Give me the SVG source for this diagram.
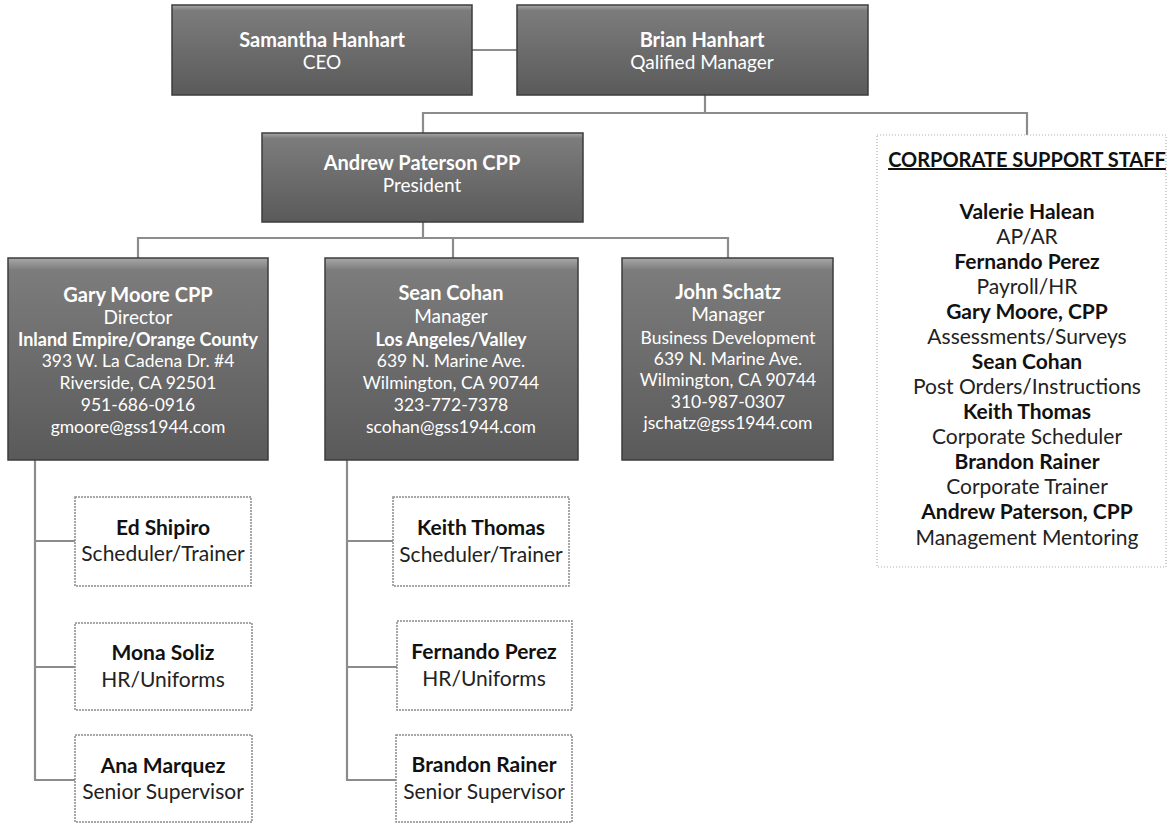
<svg xmlns="http://www.w3.org/2000/svg" width="1167" height="823" viewBox="0 0 1167 823">
  <defs>
    <linearGradient id="dg" x1="0" y1="0" x2="0" y2="1">
      <stop offset="0" stop-color="#a8a8a8"/>
      <stop offset="0.06" stop-color="#7c7c7c"/>
      <stop offset="0.5" stop-color="#6c6c6c"/>
      <stop offset="1" stop-color="#5a5a5a"/>
    </linearGradient>
  </defs>
  <style>
    .dark { fill: url(#dg); stroke: #3c3c3c; stroke-width: 1.5; }
    .sub { fill: #ffffff; stroke: #8a8a8a; stroke-width: 1.5; stroke-dasharray: 2 1; }
    .corp { fill: #ffffff; stroke: #b0b0b0; stroke-width: 1.2; stroke-dasharray: 1 2; }
    .conn { fill: none; stroke: #8c8c8c; stroke-width: 2.2; }
    text { font-family: Lato, "Liberation Sans", sans-serif; text-anchor: middle; }
    .wn { fill: #ffffff; font-size: 20px; font-weight: bold; }
    .wt { fill: #ffffff; font-size: 19px; }
    .wb { fill: #ffffff; font-size: 18px; font-weight: bold; }
    .ws { fill: #ffffff; font-size: 17.5px; }
    .bn { fill: #111111; font-size: 21px; font-weight: bold; }
    .bt { fill: #222222; font-size: 21px; }
    .cn { fill: #111111; font-size: 21px; font-weight: bold; }
    .ct { fill: #222222; font-size: 21px; }
    .hd { fill: #111111; font-size: 20px; font-weight: bold; text-decoration: underline; }
  </style>

  <g id="connectors">
    <line class="conn" x1="472" y1="50" x2="517" y2="50"/>
    <polyline class="conn" points="705,95 705,113"/>
    <polyline class="conn" points="423,133 423,113 1027,113 1027,135"/>
    <polyline class="conn" points="423,222 423,238"/>
    <polyline class="conn" points="138,258 138,238 728,238 728,258"/>
    <polyline class="conn" points="453,238 453,258"/>
    <polyline class="conn" points="35,460 35,780 75,780"/>
    <line class="conn" x1="35" y1="541" x2="75" y2="541"/>
    <line class="conn" x1="35" y1="667" x2="75" y2="667"/>
    <polyline class="conn" points="347,460 347,780 396,780"/>
    <line class="conn" x1="347" y1="541" x2="393" y2="541"/>
    <line class="conn" x1="347" y1="667" x2="397" y2="667"/>
  </g>

  <g id="node-samantha">
    <rect class="dark" x="172" y="5" width="300" height="90"/>
    <text class="wn" x="322" y="47">Samantha Hanhart</text>
    <text class="wt" x="322" y="69">CEO</text>
  </g>

  <g id="node-brian">
    <rect class="dark" x="517" y="5" width="351" height="90"/>
    <text class="wn" x="702" y="47">Brian Hanhart</text>
    <text class="wt" x="702" y="69">Qalified Manager</text>
  </g>

  <g id="node-andrew">
    <rect class="dark" x="262" y="133" width="321" height="89"/>
    <text class="wn" x="422" y="170">Andrew Paterson CPP</text>
    <text class="wt" x="422" y="192">President</text>
  </g>

  <g id="node-gary">
    <rect class="dark" x="8" y="258" width="260" height="202"/>
    <text class="wn" x="138" y="302">Gary Moore CPP</text>
    <text class="wt" x="138" y="324">Director</text>
    <text class="wb" x="138" y="346">Inland Empire/Orange County</text>
    <text class="ws" x="138" y="367">393 W. La Cadena Dr. #4</text>
    <text class="ws" x="138" y="389">Riverside, CA 92501</text>
    <text class="ws" x="138" y="411">951-686-0916</text>
    <text class="ws" x="138" y="433">gmoore@gss1944.com</text>
  </g>

  <g id="node-sean">
    <rect class="dark" x="325" y="258" width="253" height="202"/>
    <text class="wn" x="451" y="300">Sean Cohan</text>
    <text class="wt" x="451" y="323">Manager</text>
    <text class="wb" x="451" y="346">Los Angeles/Valley</text>
    <text class="ws" x="451" y="367">639 N. Marine Ave.</text>
    <text class="ws" x="451" y="389">Wilmington, CA 90744</text>
    <text class="ws" x="451" y="411">323-772-7378</text>
    <text class="ws" x="451" y="433">scohan@gss1944.com</text>
  </g>

  <g id="node-john">
    <rect class="dark" x="622" y="258" width="211" height="202"/>
    <text class="wn" x="728" y="299">John Schatz</text>
    <text class="wt" x="728" y="321">Manager</text>
    <text class="ws" x="728" y="344">Business Development</text>
    <text class="ws" x="728" y="365">639 N. Marine Ave.</text>
    <text class="ws" x="728" y="386">Wilmington, CA 90744</text>
    <text class="ws" x="728" y="408">310-987-0307</text>
    <text class="ws" x="728" y="429">jschatz@gss1944.com</text>
  </g>

  <g id="node-corporate">
    <rect class="corp" x="877" y="135" width="289" height="432"/>
    <text class="hd" x="1027" y="167">CORPORATE SUPPORT STAFF</text>
    <text class="cn" x="1027" y="219">Valerie Halean</text>
    <text class="ct" x="1027" y="244">AP/AR</text>
    <text class="cn" x="1027" y="269">Fernando Perez</text>
    <text class="ct" x="1027" y="294">Payroll/HR</text>
    <text class="cn" x="1027" y="319">Gary Moore, CPP</text>
    <text class="ct" x="1027" y="344">Assessments/Surveys</text>
    <text class="cn" x="1027" y="369">Sean Cohan</text>
    <text class="ct" x="1027" y="394">Post Orders/Instructions</text>
    <text class="cn" x="1027" y="419">Keith Thomas</text>
    <text class="ct" x="1027" y="444">Corporate Scheduler</text>
    <text class="cn" x="1027" y="469">Brandon Rainer</text>
    <text class="ct" x="1027" y="494">Corporate Trainer</text>
    <text class="cn" x="1027" y="519">Andrew Paterson, CPP</text>
    <text class="ct" x="1027" y="545">Management Mentoring</text>
  </g>

  <g id="node-ed">
    <rect class="sub" x="75" y="497" width="176" height="89"/>
    <text class="bn" x="163" y="535">Ed Shipiro</text>
    <text class="bt" x="163" y="561">Scheduler/Trainer</text>
  </g>

  <g id="node-mona">
    <rect class="sub" x="75" y="623" width="177" height="87"/>
    <text class="bn" x="163" y="660">Mona Soliz</text>
    <text class="bt" x="163" y="687">HR/Uniforms</text>
  </g>

  <g id="node-ana">
    <rect class="sub" x="75" y="735" width="177" height="87"/>
    <text class="bn" x="163" y="773">Ana Marquez</text>
    <text class="bt" x="163" y="799">Senior Supervisor</text>
  </g>

  <g id="node-keith">
    <rect class="sub" x="393" y="497" width="176" height="89"/>
    <text class="bn" x="481" y="535">Keith Thomas</text>
    <text class="bt" x="481" y="562">Scheduler/Trainer</text>
  </g>

  <g id="node-fernando">
    <rect class="sub" x="397" y="621" width="175" height="89"/>
    <text class="bn" x="484" y="659">Fernando Perez</text>
    <text class="bt" x="484" y="686">HR/Uniforms</text>
  </g>

  <g id="node-brandon">
    <rect class="sub" x="396" y="735" width="176" height="87"/>
    <text class="bn" x="484" y="772">Brandon Rainer</text>
    <text class="bt" x="484" y="799">Senior Supervisor</text>
  </g>
</svg>
